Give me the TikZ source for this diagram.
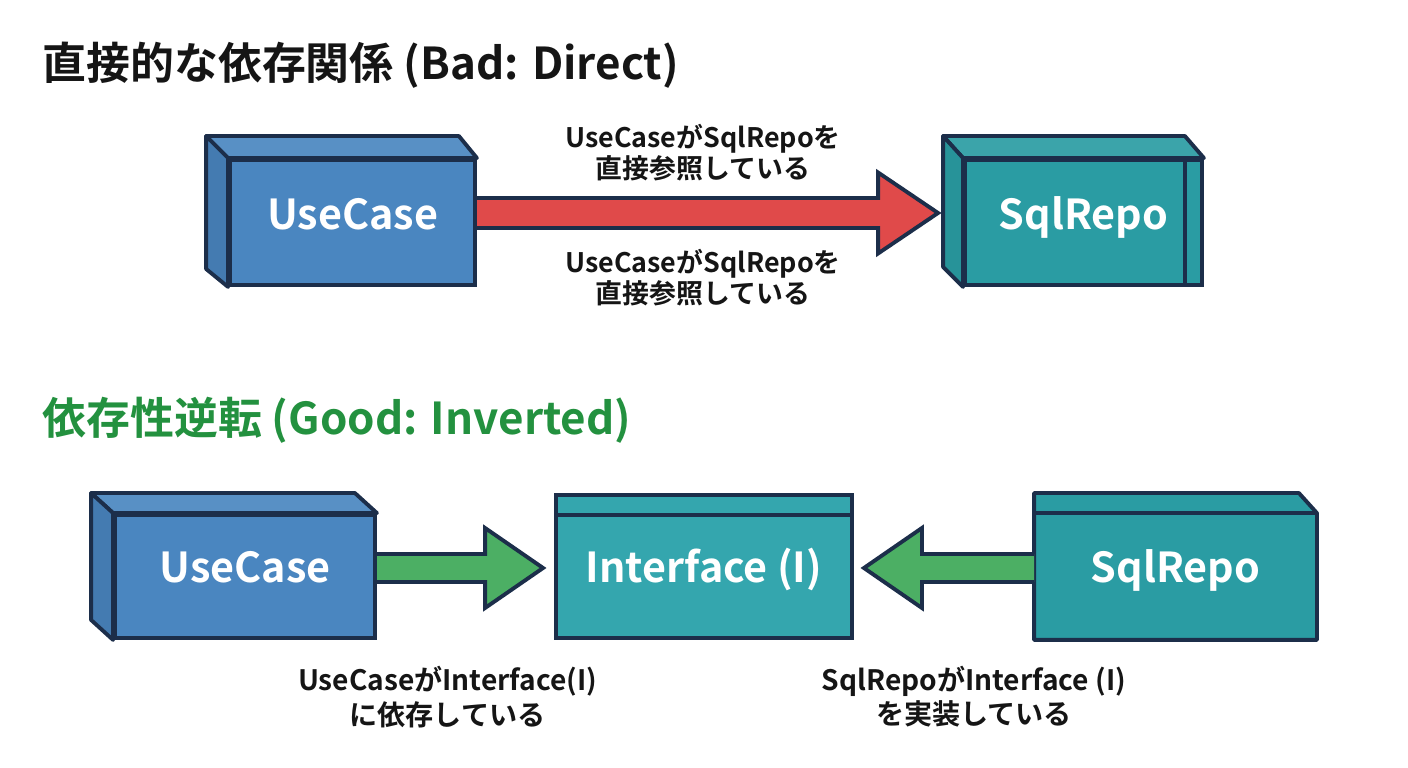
\documentclass[tikz,border=0pt]{standalone}
\usepackage{fontspec}
\setmainfont{Noto Sans CJK JP}[BoldFont={Noto Sans CJK JP Bold}]
\usetikzlibrary{positioning, calc, backgrounds}
\definecolor{BoxBlue}{HTML}{4A86C0}
\definecolor{BoxTeal}{HTML}{2A9CA3}
\definecolor{IfaceTeal}{HTML}{34A6AE}
\definecolor{EdgeNavy}{HTML}{1C2E4A}
\definecolor{BadRed}{HTML}{E04A4A}
\definecolor{GoodGreen}{HTML}{4CAF64}
\definecolor{TitleGreen}{HTML}{23913F}
\definecolor{InkBlack}{HTML}{151515}

\begin{document}
\begin{tikzpicture}[
    font=\bfseries,
    box/.style={rectangle, draw=EdgeNavy, line width=2.2pt, text=white, inner sep=0pt, text height=0.72em, text depth=0pt, font=\fontsize{23.5}{28}\selectfont\bfseries},
    side/.style={draw=EdgeNavy, line width=2.2pt, line join=round},
    fat/.style={draw=EdgeNavy, line width=2.2pt, line join=miter},
    title/.style={anchor=west, inner sep=0pt, font=\fontsize{25}{30}\selectfont\bfseries},
    note/.style={align=center, inner sep=0pt, text=InkBlack}
]
    \useasboundingbox (0,0) rectangle (28.16,15.36);
    \begin{scope}[on background layer]
    \fill[white] (0,0) rectangle (28.16,15.36);
    \end{scope}

    % titles
    \node (badTitle) [title, text=InkBlack] at (0.84,14.06) {直接的な依存関係 (Bad: Direct)};
    \node (goodTitle) [title, text=TitleGreen] at (0.84,6.96) {依存性逆転 (Good: Inverted)};

    % direct dependency
    \node (ucA) [box, fill=BoxBlue, minimum width=4.9cm, minimum height=2.5cm] at (7.05,10.91) {\raisebox{-0.5pt}{UseCase}};
    \filldraw[side, fill=BoxBlue!92!white] (ucA.north west) -- ++(-0.44,0.44) -- ($(ucA.north east)+(-0.36,0.44)$) -- (ucA.north east) -- cycle;
    \filldraw[side, fill=BoxBlue!92!black] (ucA.north west) -- ++(-0.44,0.44) -- ($(ucA.south west)+(-0.44,0.36)$) -- (ucA.south west) -- cycle;

    \node (repoA) [box, fill=BoxTeal, minimum width=4.74cm, minimum height=2.5cm] at (21.67,10.91) {\raisebox{-0.5pt}{SqlRepo}};
    \filldraw[side, fill=BoxTeal!92!white] (repoA.north west) -- ++(-0.4,0.44) -- ($(repoA.north east)+(-0.38,0.44)$) -- (repoA.north east) -- cycle;
    \filldraw[side, fill=BoxTeal!94!black] (repoA.north west) -- ++(-0.4,0.44) -- ($(repoA.south west)+(-0.4,0.4)$) -- (repoA.south west) -- cycle;
    \draw[side] ($(repoA.north east)+(-0.38,0)$) -- ($(repoA.south east)+(-0.38,0)$);

    \coordinate (tailA) at ($(ucA.east)+(0,0.19)$);
    \coordinate (tipA) at ($(repoA.west)+(-0.5,0.19)$);
    \begin{scope}[on background layer]
    \filldraw[fat, fill=BadRed] ($(tailA)+(0,0.3)$) -- ($(tipA)+(-1.2,0.3)$) -- ($(tipA)+(-1.2,0.81)$) -- (tipA)
        -- ($(tipA)+(-1.2,-0.81)$) -- ($(tipA)+(-1.2,-0.3)$) -- ($(tailA)+(0,-0.3)$);
    \end{scope}

    \node (noteA1) [note, font=\fontsize{15.3}{17.5}\selectfont\bfseries] at (14.06,12.3) {UseCaseがSqlRepoを\\直接参照している};
    \node (noteA2) [note, font=\fontsize{15.3}{17.5}\selectfont\bfseries] at (14.06,9.8) {UseCaseがSqlRepoを\\直接参照している};

    % inverted dependency
    \node (ucB) [box, fill=BoxBlue, minimum width=5.2cm, minimum height=2.46cm] at (4.9,3.83) {\raisebox{0.3pt}{UseCase}};
    \filldraw[side, fill=BoxBlue!92!white] (ucB.north west) -- ++(-0.44,0.4) -- ($(ucB.north east)+(-0.44,0.4)$) -- (ucB.north east) -- cycle;
    \filldraw[side, fill=BoxBlue!92!black] (ucB.north west) -- ++(-0.44,0.4) -- ($(ucB.south west)+(-0.44,0.4)$) -- (ucB.south west) -- cycle;

    \node (iface) [box, fill=IfaceTeal, minimum width=5.92cm, minimum height=2.86cm] at (14.08,4.03) {\raisebox{-5.5pt}{Interface (I)}};
    \draw[side] ($(iface.north west)+(0,-0.44)$) -- ($(iface.north east)+(0,-0.44)$);

    \node (repoB) [box, draw=none, minimum width=5.58cm, minimum height=2.86cm] at (23.51,4.03) {\raisebox{-5.5pt}{SqlRepo}};
    \begin{scope}[on background layer]
    \filldraw[side, fill=BoxTeal] (repoB.south west) -- (repoB.north west) -- ($(repoB.north east)+(-0.36,0)$)
        -- ($(repoB.north east)+(0,-0.4)$) -- (repoB.south east) -- cycle;
    \end{scope}
    \draw[side] ($(repoB.north west)+(0,-0.4)$) -- ($(repoB.north east)+(0,-0.4)$);

    \coordinate (tailB) at ($(ucB.east)+(0,0.17)$);
    \coordinate (tipB) at ($(iface.west)+(-0.22,-0.03)$);
    \coordinate (tailC) at ($(repoB.west)+(0,-0.03)$);
    \coordinate (tipC) at ($(iface.east)+(0.2,-0.03)$);
    \begin{scope}[on background layer]
    \filldraw[fat, fill=GoodGreen] ($(tailB)+(0,0.28)$) -- ($(tipB)+(-1.16,0.28)$) -- ($(tipB)+(-1.16,0.8)$) -- (tipB)
        -- ($(tipB)+(-1.16,-0.8)$) -- ($(tipB)+(-1.16,-0.28)$) -- ($(tailB)+(0,-0.28)$);
    \filldraw[fat, fill=GoodGreen] ($(tailC)+(0,0.28)$) -- ($(tipC)+(1.16,0.28)$) -- ($(tipC)+(1.16,0.8)$) -- (tipC)
        -- ($(tipC)+(1.16,-0.8)$) -- ($(tipC)+(1.16,-0.28)$) -- ($(tailC)+(0,-0.28)$);
    \end{scope}

    \node (noteB) [note, font=\fontsize{16}{19.5}\selectfont\bfseries] at (8.95,1.42) {UseCaseがInterface(I)\\に依存している};
    \node (noteC) [note, font=\fontsize{16}{19.5}\selectfont\bfseries] at (19.48,1.42) {SqlRepoがInterface (I)\\を実装している};
\end{tikzpicture}
\end{document}
